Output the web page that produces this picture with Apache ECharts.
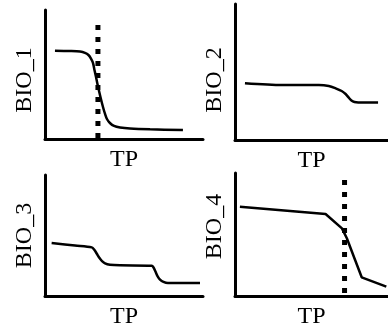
<!DOCTYPE html>
<html>
<head>
<meta charset="utf-8">
<script src="https://cdn.jsdelivr.net/npm/echarts@6/dist/echarts.min.js"></script>
<style>
html,body{margin:0;padding:0;background:#fff;}
#chart{width:388px;height:335px;}
</style>
</head>
<body>
<div id="chart"></div>
<script>
// Axis titles
const yNames = ['BIO_1', 'BIO_2', 'BIO_3', 'BIO_4'];
const xName = 'TP';

// Panel 1 (BIO_1 vs TP)
const tp1 = [6.3, 15.8, 22.2, 25.3, 27.5, 29.1, 30.4, 31.3, 32.3, 33.2, 34.2, 35.4, 36.7, 38.0, 39.2, 41.1, 43.7, 47.5, 53.8, 66.5, 87.3];
const bio1 = [68.4, 68.2, 67.8, 66.8, 65.1, 62.4, 58.9, 53.5, 48.1, 42.6, 37.2, 31.0, 24.8, 19.4, 15.5, 12.4, 10.1, 8.9, 8.1, 7.5, 7.0];
const threshold1 = 33.5;
const threshold1Top = 88.4;

// Panel 2 (BIO_2 vs TP)
const tp2 = [6.5, 31.0, 54.8, 61.3, 65.8, 69.7, 72.3, 74.2, 76.1, 78.1, 80.6, 93.5];
const bio2 = [41.7, 40.4, 40.4, 39.7, 38.0, 36.0, 33.8, 31.3, 29.0, 27.9, 27.6, 27.6];

// Panel 3 (BIO_3 vs TP)
const tp3 = [4.2, 19.0, 29.6, 31.3, 32.9, 34.5, 36.1, 38.0, 41.1, 47.5, 67.5, 68.7, 69.9, 71.2, 72.8, 75.0, 77.8, 98.1];
const bio3 = [43.8, 41.7, 40.2, 38.0, 34.7, 31.4, 28.9, 27.0, 25.9, 25.4, 25.0, 23.6, 20.2, 16.5, 13.6, 11.6, 10.7, 10.7];

// Panel 4 (BIO_4 vs TP)
const tp4 = [3.2, 59.2, 69.9, 73.1, 78.5, 82.8, 98.9];
const bio4 = [72.6, 66.7, 55.0, 46.9, 29.3, 15.2, 7.6];
const threshold4 = 71.6;
const threshold4Top = 94.3;

const zip = (a, b) => a.map((v, i) => [v, b[i]]);

const grids = [
  {left: 45, top: 10, width: 158, height: 129},
  {left: 235, top: 4, width: 155, height: 136},
  {left: 45, top: 175, width: 158, height: 121},
  {left: 235, top: 173, width: 155, height: 123}
];
const yPad = [[0, 11, 0, 0], [0, 16, 0, 0], [0, 0, 0, 0], [0, 0, 0, 16]];

const font = {fontFamily: "'Liberation Serif', 'Times New Roman', serif", fontSize: 24, color: '#000'};
const axisLine = {show: true, lineStyle: {color: '#000', width: 3}};

const xAxes = grids.map((g, i) => ({
  type: 'value', gridIndex: i, min: 0, max: 100,
  name: xName, nameLocation: 'middle', nameGap: 9,
  nameTextStyle: font,
  axisLine: axisLine, axisTick: {show: false}, axisLabel: {show: false}, splitLine: {show: false}
}));
const yAxes = grids.map((g, i) => ({
  type: 'value', gridIndex: i, min: 0, max: 100,
  name: yNames[i], nameLocation: 'middle', nameGap: 8,
  nameTextStyle: Object.assign({padding: yPad[i]}, font),
  axisLine: axisLine, axisTick: {show: false}, axisLabel: {show: false}, splitLine: {show: false}
}));

const curve = (i, x, y, smooth) => ({
  type: 'line', xAxisIndex: i, yAxisIndex: i, data: zip(x, y),
  showSymbol: false, smooth: smooth,
  lineStyle: {color: '#000', width: 2.5}, animation: false
});
const dashed = (i, x, top) => ({
  type: 'line', xAxisIndex: i, yAxisIndex: i, data: [[x, top], [x, 0]],
  showSymbol: false,
  lineStyle: {color: '#000', width: 5, type: [5, 7], cap: 'butt'}, animation: false
});

const chart = echarts.init(document.getElementById('chart'), null, {renderer: 'canvas'});
chart.setOption({
  backgroundColor: '#fff',
  animation: false,
  grid: grids,
  xAxis: xAxes,
  yAxis: yAxes,
  series: [
    curve(0, tp1, bio1, 0.3),
    dashed(0, threshold1, threshold1Top),
    curve(1, tp2, bio2, 0.3),
    curve(2, tp3, bio3, 0.3),
    curve(3, tp4, bio4, false),
    dashed(3, threshold4, threshold4Top)
  ]
});
</script>
</body>
</html>
